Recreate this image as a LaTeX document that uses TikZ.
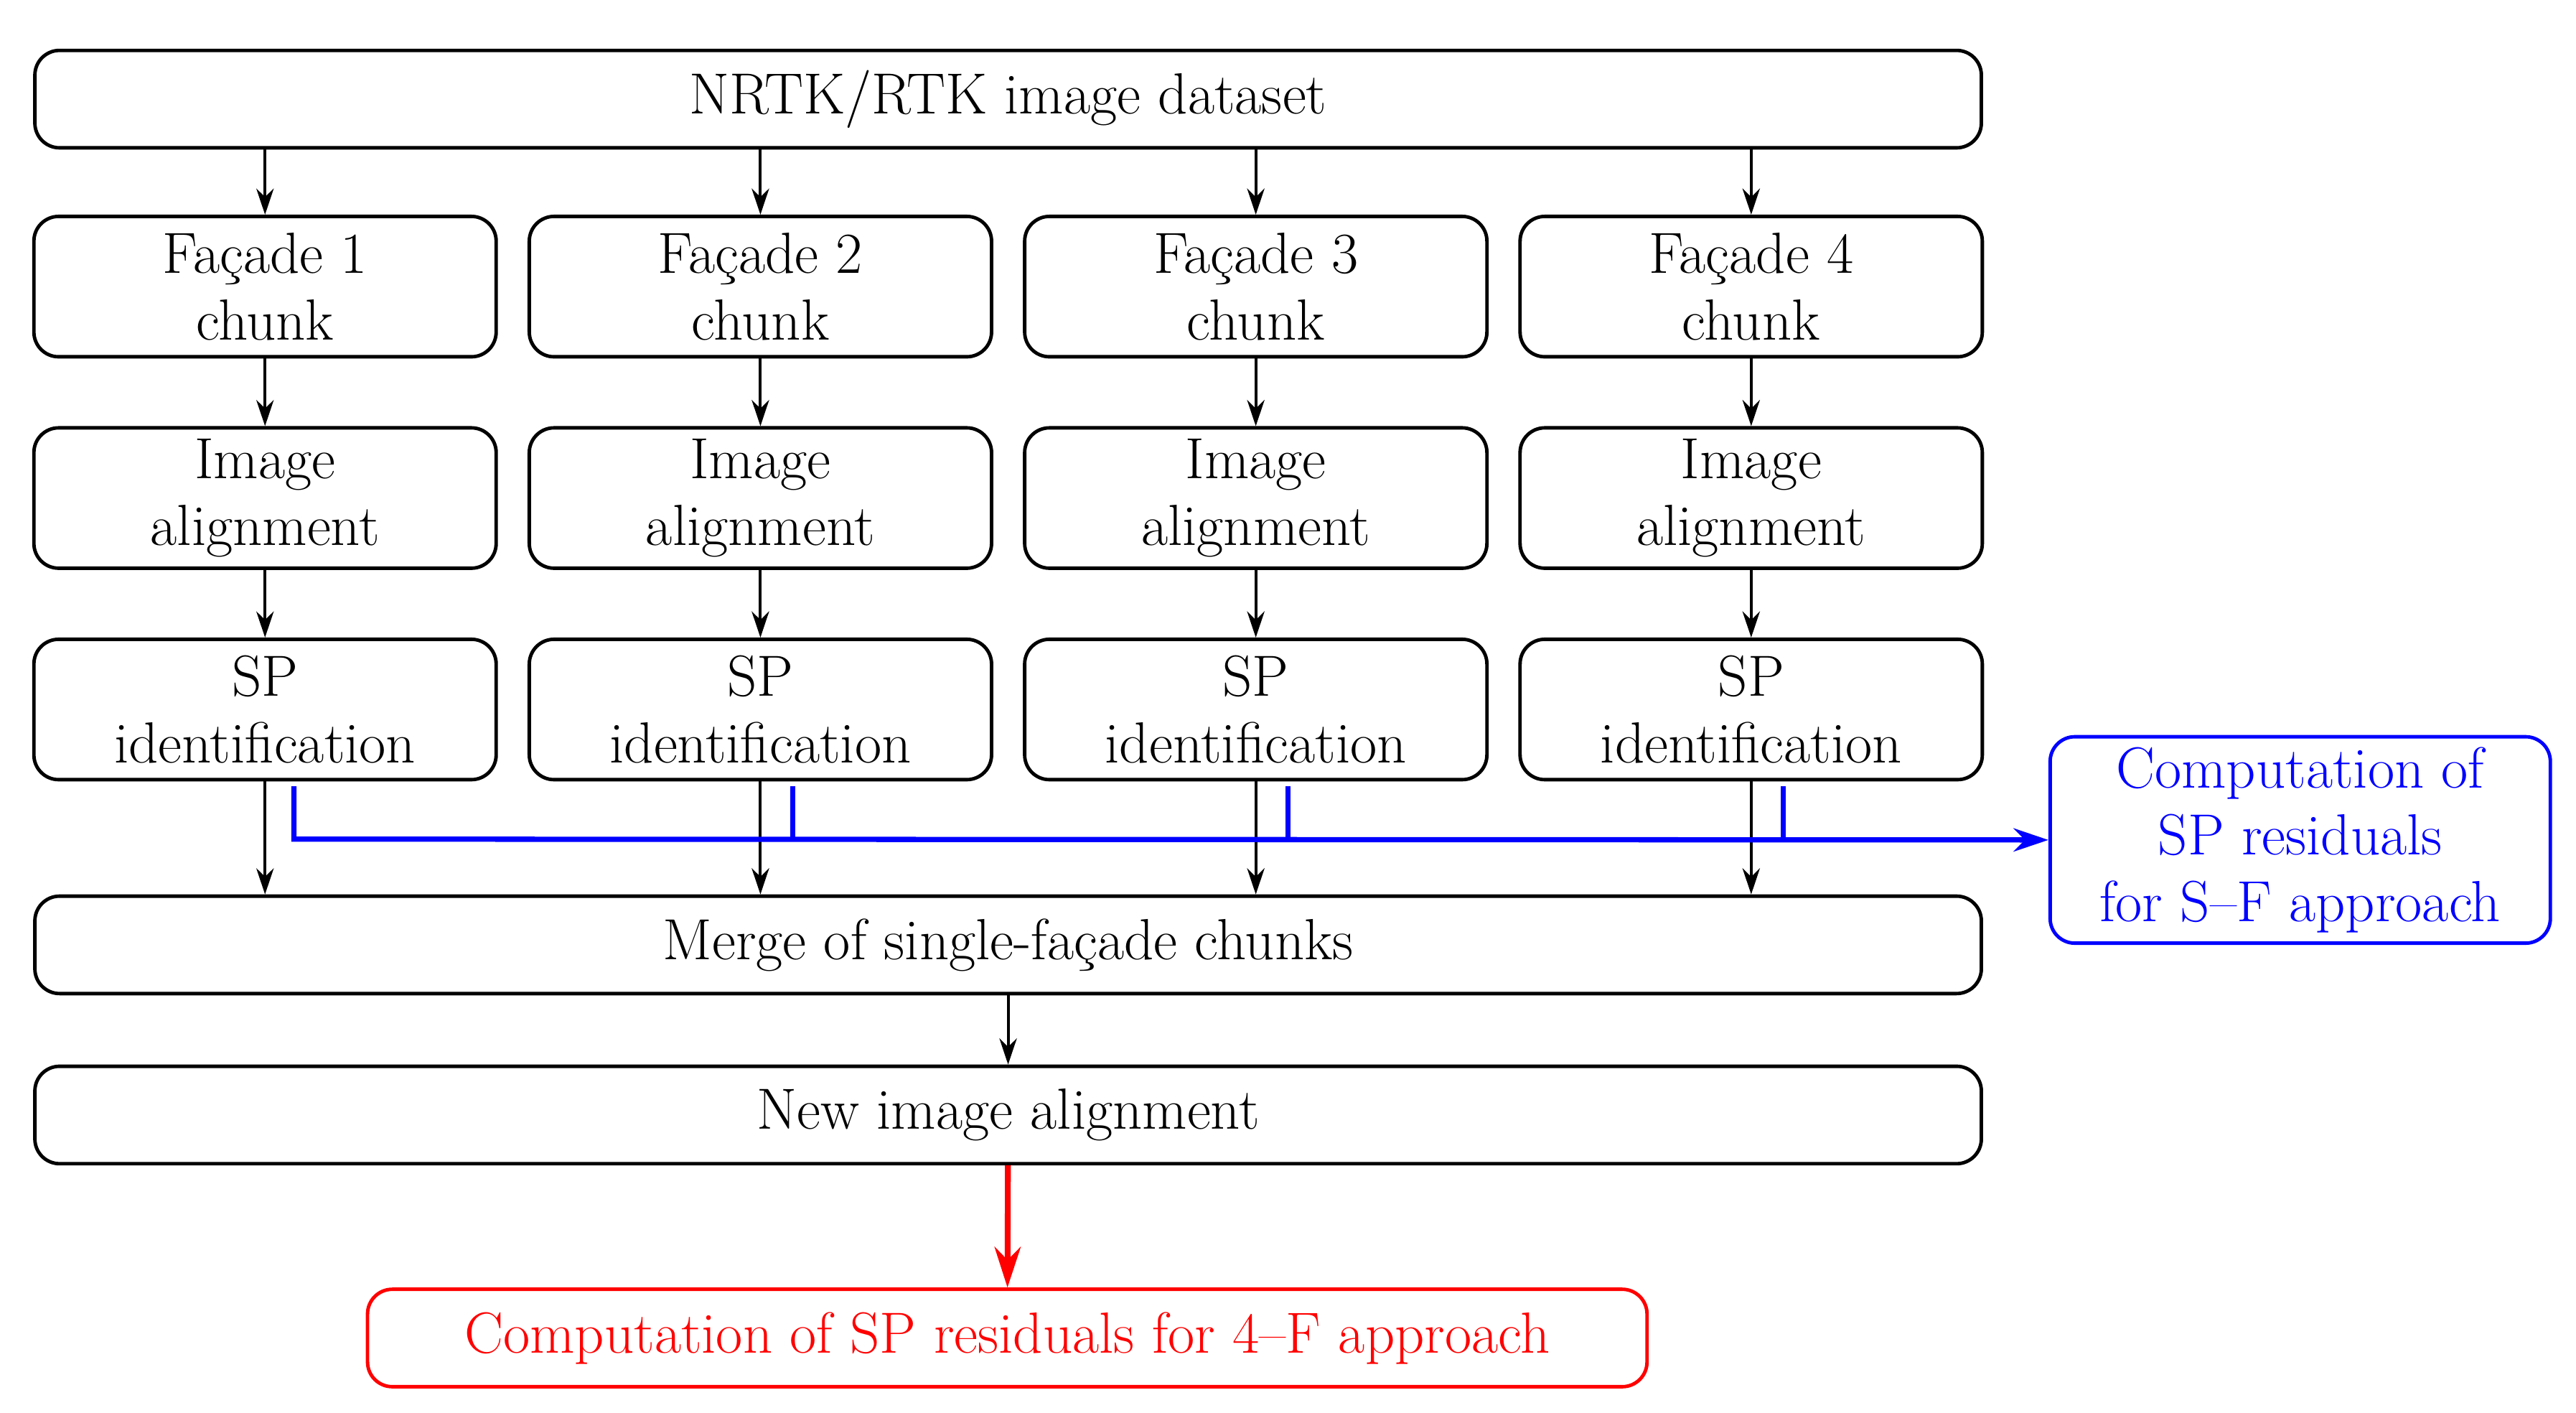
\documentclass[tikz,border=0pt]{standalone}
\usetikzlibrary{arrows.meta}
\begin{document}
\begin{tikzpicture}[x=0.02cm,y=-0.02cm,
  box/.style={draw,line width=1.2pt,rounded corners=0.3cm,align=center,font=\fontsize{20}{23}\selectfont,inner sep=0pt},
  wide/.style={box,minimum width=23.58cm,minimum height=1.18cm},
  col/.style={box,minimum width=5.6cm,minimum height=1.7cm},
  arr/.style={-{Stealth[length=9pt,width=6pt]},line width=1pt},
  barr/.style={blue,line width=1.8pt},
  ]
\useasboundingbox (0,0) rectangle (1560,855);
\node[wide] (top) at (610.5,60) {NRTK/RTK image dataset};
\foreach \i/\x in {1/160.5,2/460.5,3/760.5,4/1060.5}{
  \node[col] (f\i) at (\x,173.5) {Façade \i\\chunk};
  \node[col] (a\i) at (\x,301.5) {Image\\alignment};
  \node[col] (s\i) at (\x,429.5) {SP\\identification};
  \draw[arr] (top.south -| f\i) -- (f\i);
  \draw[arr] (f\i) -- (a\i);
  \draw[arr] (a\i) -- (s\i);
}
\node[wide] (merge) at (610.5,572) {Merge of single-façade chunks};
\node[wide] (new) at (610.5,675) {New image alignment};
\node[box,red,minimum width=15.5cm,minimum height=1.18cm] (red) at (610,810) {Computation of SP residuals for 4--F approach};
\node[box,blue,minimum width=6.06cm,minimum height=2.5cm] (blue) at (1393,508.5) {Computation of\\SP residuals\\for S--F approach};
\foreach \i in {1,2,3,4}{\draw[arr] (s\i) -- (merge.north -| s\i);}
\coordinate (b1) at (178,476);
\coordinate (b1e) at (178,508);
\draw[barr,-{Stealth[length=12pt,width=8pt]}] (b1) -- (b1e) -- (blue.west);
\foreach \x in {480,780,1080}{\coordinate (t\x) at (\x,476); \draw[barr] (t\x) -- (\x,508);}
\draw[arr] (merge) -- (new);
\draw[red,line width=2pt,-{Stealth[length=14pt,width=9pt]}] (new) -- (red);
\end{tikzpicture}
\end{document}
